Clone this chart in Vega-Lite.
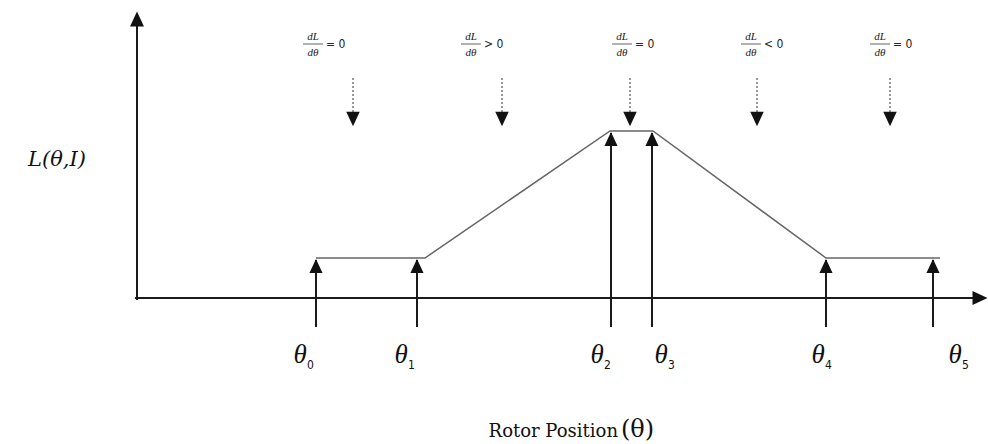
{
  "$schema": "https://vega.github.io/schema/vega-lite/v6.json",
  "width": 988,
  "height": 444,
  "autosize": {"type": "fit", "contains": "padding"},
  "padding": 0,
  "background": "white",
  "view": {"stroke": null},
  "config": {"font": "Liberation Serif"},
  "datasets": {
    "axes": [
      {"x": 0, "y": -2, "x2": 0, "y2": 282},
      {"x": -2, "y": 0, "x2": 846, "y2": 0}
    ],
    "axisHeads": [
      {"x": 0, "y": 279, "shape": "M0,-1L0.93,1L-0.93,1Z"},
      {"x": 843, "y": 0, "shape": "M1,0L-1,0.93L-1,-0.93Z"}
    ],
    "curve": [
      {"x": 179, "y": 40, "o": 0},
      {"x": 288, "y": 40, "o": 1},
      {"x": 473, "y": 167, "o": 2},
      {"x": 516, "y": 167, "o": 3},
      {"x": 689, "y": 40, "o": 4},
      {"x": 803, "y": 40, "o": 5}
    ],
    "stems": [
      {"theta": "θ0", "x": 179, "y": -29, "level": 38, "head": 32},
      {"theta": "θ1", "x": 280, "y": -29, "level": 38, "head": 32},
      {"theta": "θ2", "x": 474, "y": -29, "level": 165, "head": 159},
      {"theta": "θ3", "x": 515, "y": -29, "level": 165, "head": 159},
      {"theta": "θ4", "x": 689, "y": -29, "level": 38, "head": 32},
      {"theta": "θ5", "x": 796, "y": -29, "level": 38, "head": 32}
    ],
    "thetaLabels": [
      {"x": 163, "sub": "0"},
      {"x": 264, "sub": "1"},
      {"x": 460, "sub": "2"},
      {"x": 524, "sub": "3"},
      {"x": 681, "sub": "4"},
      {"x": 818, "sub": "5"}
    ],
    "slopes": [
      {"x": 216, "fx": 176, "rel": "= 0"},
      {"x": 365, "fx": 334, "rel": "> 0"},
      {"x": 493, "fx": 485, "rel": "= 0"},
      {"x": 620, "fx": 614, "rel": "< 0"},
      {"x": 753, "fx": 743, "rel": "= 0"}
    ]
  },
  "encoding": {
    "x": {"type": "quantitative", "scale": {"domain": [-137, 851], "nice": false, "zero": false}, "axis": null},
    "y": {"type": "quantitative", "scale": {"domain": [-146, 298], "nice": false, "zero": false}, "axis": null}
  },
  "layer": [
    {
      "data": {"name": "axes"},
      "mark": {"type": "rule", "color": "#1a1a1a", "strokeWidth": 2},
      "encoding": {"x": {"field": "x"}, "y": {"field": "y"}, "x2": {"field": "x2"}, "y2": {"field": "y2"}}
    },
    {
      "data": {"name": "axisHeads"},
      "mark": {"type": "point", "filled": true, "color": "#111", "size": 225, "opacity": 1},
      "encoding": {"x": {"field": "x"}, "y": {"field": "y"}, "shape": {"field": "shape", "type": "nominal", "scale": null}}
    },
    {
      "data": {"name": "curve"},
      "mark": {"type": "line", "color": "#666", "strokeWidth": 1.5},
      "encoding": {"x": {"field": "x"}, "y": {"field": "y"}, "order": {"field": "o", "type": "quantitative"}}
    },
    {
      "data": {"name": "stems"},
      "mark": {"type": "rule", "color": "#1a1a1a", "strokeWidth": 2},
      "encoding": {"x": {"field": "x"}, "y": {"field": "y"}, "y2": {"field": "level"}}
    },
    {
      "data": {"name": "stems"},
      "mark": {"type": "point", "filled": true, "color": "#111", "size": 200, "opacity": 1, "shape": "M0,-1L0.93,1L-0.93,1Z"},
      "encoding": {"x": {"field": "x"}, "y": {"field": "head"}}
    },
    {
      "data": {"name": "thetaLabels"},
      "mark": {"type": "text", "text": "θ", "fontSize": 27, "fontStyle": "italic", "color": "#111", "baseline": "middle", "align": "center"},
      "encoding": {"x": {"field": "x"}, "y": {"datum": -57}}
    },
    {
      "data": {"name": "thetaLabels"},
      "mark": {"type": "text", "fontSize": 12, "font": "DejaVu Sans Condensed", "color": "#111", "baseline": "middle", "align": "left", "dx": 7, "dy": 10},
      "encoding": {"x": {"field": "x"}, "y": {"datum": -57}, "text": {"field": "sub"}}
    },
    {
      "data": {"name": "slopes"},
      "mark": {"type": "rule", "color": "#333", "strokeWidth": 1, "strokeDash": [2, 2]},
      "encoding": {"x": {"field": "x"}, "y": {"datum": 220}, "y2": {"datum": 184}}
    },
    {
      "data": {"name": "slopes"},
      "mark": {"type": "point", "filled": true, "color": "#111", "size": 210, "opacity": 1, "shape": "M0,1L0.93,-1L-0.93,-1Z"},
      "encoding": {"x": {"field": "x"}, "y": {"datum": 179}}
    },
    {
      "data": {"name": "slopes"},
      "mark": {"type": "text", "text": "dL", "fontSize": 11, "fontStyle": "italic", "color": "#222", "baseline": "middle", "align": "center"},
      "encoding": {"x": {"field": "fx"}, "y": {"datum": 261}}
    },
    {
      "data": {"name": "slopes"},
      "mark": {"type": "tick", "orient": "horizontal", "color": "#222", "thickness": 1, "size": 20},
      "encoding": {"x": {"field": "fx"}, "y": {"datum": 254}}
    },
    {
      "data": {"name": "slopes"},
      "mark": {"type": "text", "text": "dθ", "fontSize": 11, "fontStyle": "italic", "color": "#222", "baseline": "middle", "align": "center"},
      "encoding": {"x": {"field": "fx"}, "y": {"datum": 245}}
    },
    {
      "data": {"name": "slopes"},
      "mark": {"type": "text", "fontSize": 12, "font": "DejaVu Sans Condensed", "color": "#222", "baseline": "middle", "align": "left", "dx": 13},
      "encoding": {"x": {"field": "fx"}, "y": {"datum": 254}, "text": {"field": "rel"}}
    },
    {
      "data": {"values": [{"x": -80, "y": 138, "t": "L(θ,I)"}]},
      "mark": {"type": "text", "fontSize": 21, "font": "DejaVu Serif", "fontStyle": "italic", "color": "#111", "baseline": "middle", "align": "center"},
      "encoding": {"x": {"field": "x"}, "y": {"field": "y"}, "text": {"field": "t"}}
    },
    {
      "data": {"values": [{"x": 481, "y": -134, "t": "Rotor Position"}]},
      "mark": {"type": "text", "fontSize": 18, "font": "DejaVu Serif", "color": "#111", "baseline": "middle", "align": "right"},
      "encoding": {"x": {"field": "x"}, "y": {"field": "y"}, "text": {"field": "t"}}
    },
    {
      "data": {"values": [{"x": 484, "y": -132, "t": "(θ)"}]},
      "mark": {"type": "text", "fontSize": 24, "font": "DejaVu Serif", "color": "#111", "baseline": "middle", "align": "left"},
      "encoding": {"x": {"field": "x"}, "y": {"field": "y"}, "text": {"field": "t"}}
    }
  ]
}
